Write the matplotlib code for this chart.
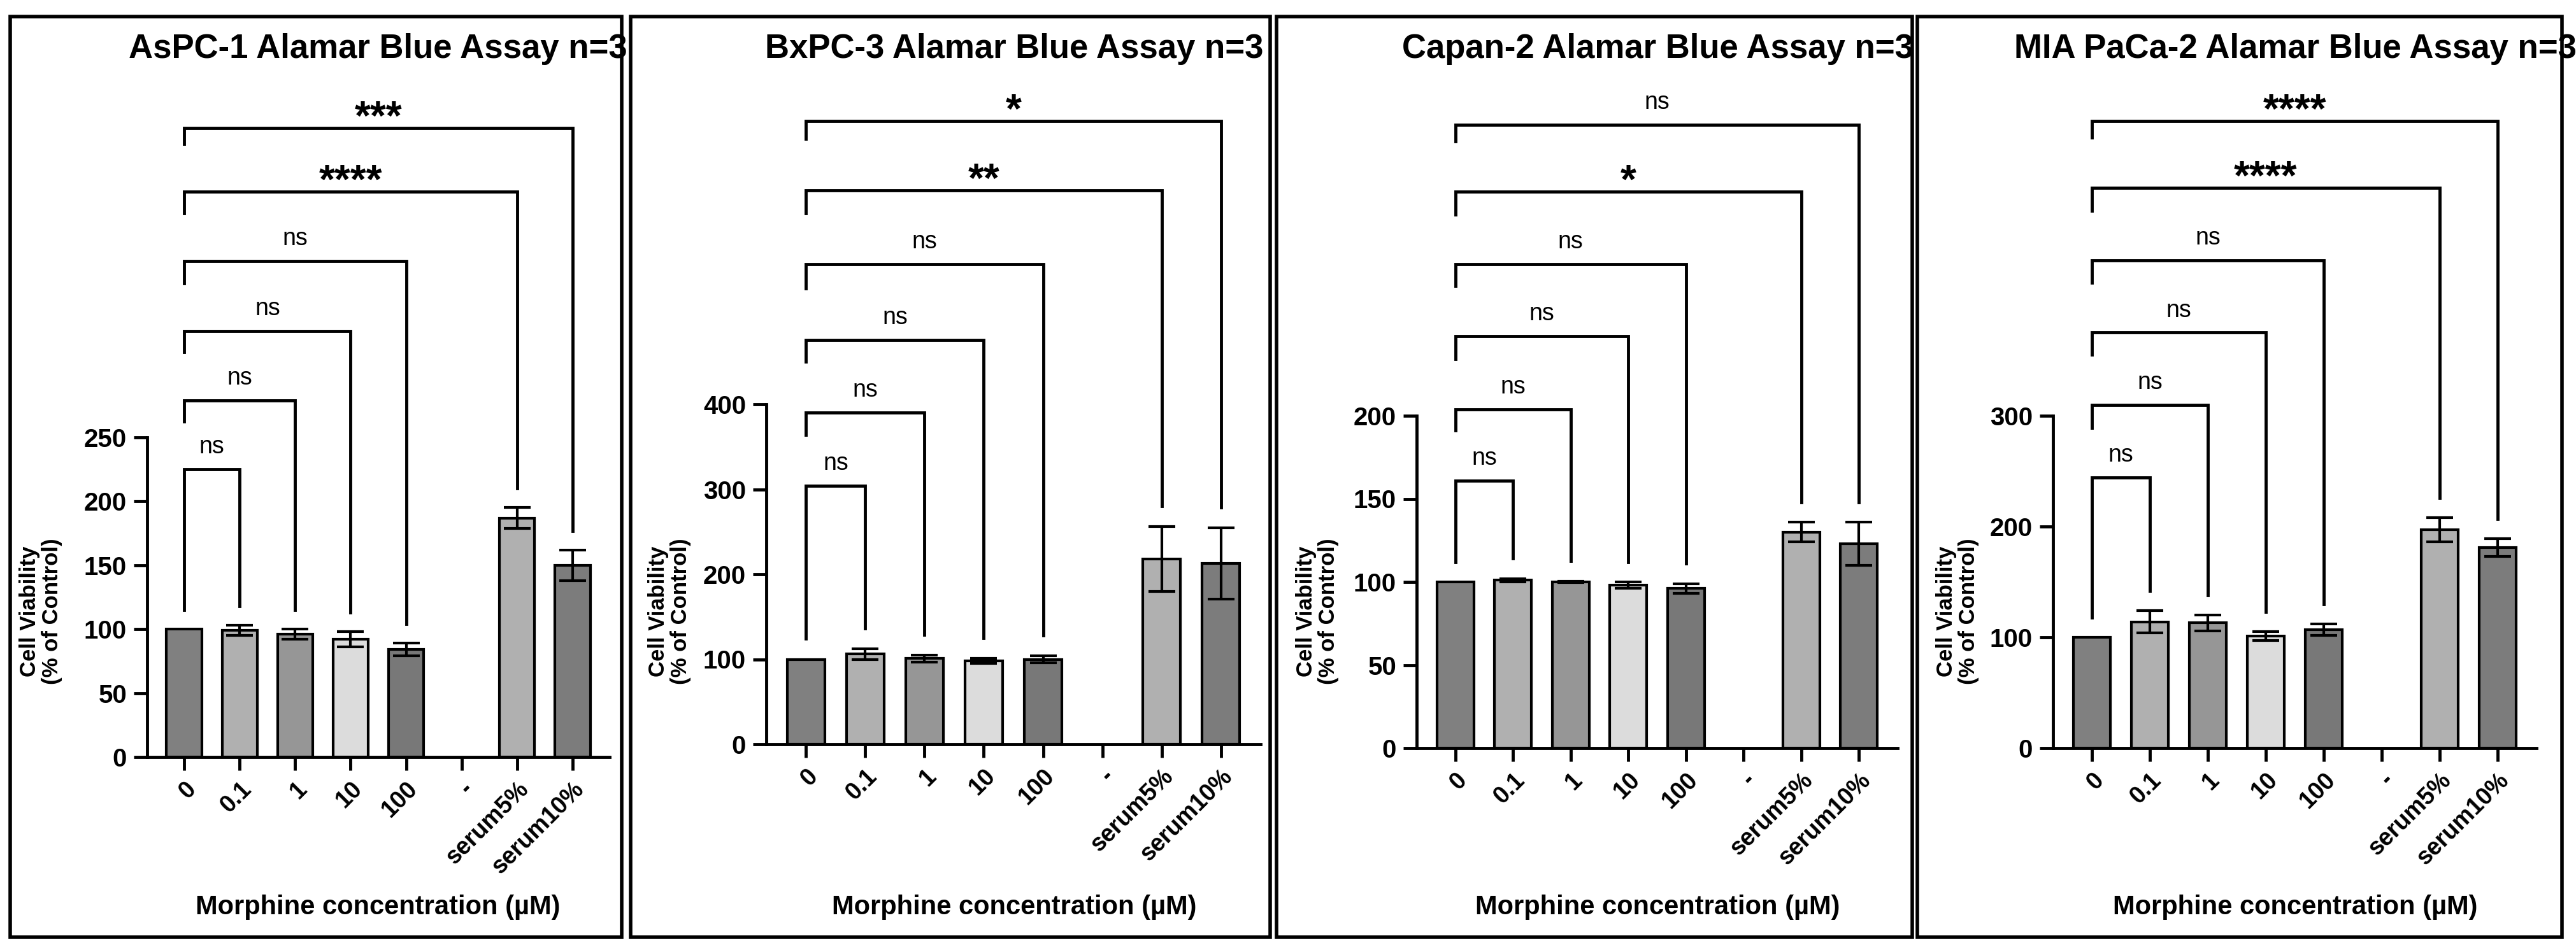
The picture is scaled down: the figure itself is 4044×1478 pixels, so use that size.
import matplotlib
matplotlib.use("Agg")
import matplotlib.pyplot as plt
from matplotlib.patches import Rectangle

plt.rcParams['font.family'] = ['Liberation Sans', 'DejaVu Sans']

categories = ["0", "0.1", "1", "10", "100", "-", "serum5%", "serum10%"]
titles = ["AsPC-1 Alamar Blue Assay n=3", "BxPC-3 Alamar Blue Assay n=3",
          "Capan-2 Alamar Blue Assay n=3", "MIA PaCa-2 Alamar Blue Assay n=3"]

aspc1_mean = [100, 99, 96, 92, 84, None, 187, 150]
aspc1_err = [0, 4, 4, 6, 5, None, 8, 12]
bxpc3_mean = [100, 106, 101, 98, 100, None, 218, 213]
bxpc3_err = [0, 6, 4, 3, 4, None, 38, 42]
capan2_mean = [100, 101, 100, 98, 96, None, 130, 123]
capan2_err = [0, 1, 0.5, 2, 3, None, 6, 13]
miapaca2_mean = [100, 114, 113, 101, 107, None, 197, 181]
miapaca2_err = [0, 10, 7, 4, 5, None, 11, 8]

aspc1_ticks = [0, 50, 100, 150, 200, 250]
bxpc3_ticks = [0, 100, 200, 300, 400]
capan2_ticks = [0, 50, 100, 150, 200]
miapaca2_ticks = [0, 100, 200, 300]

bracket_targets = [1, 2, 3, 4, 6, 7]
aspc1_levels = [225, 279, 333, 388, 442, 492]
bxpc3_levels = [304, 390, 476, 565, 652, 733]
capan2_levels = [161, 204, 248, 291, 335, 375]
miapaca2_levels = [244, 310, 375, 440, 506, 566]
aspc1_sig = ["ns", "ns", "ns", "ns", "****", "***"]
bxpc3_sig = ["ns", "ns", "ns", "ns", "**", "*"]
capan2_sig = ["ns", "ns", "ns", "ns", "*", "ns"]
miapaca2_sig = ["ns", "ns", "ns", "ns", "****", "****"]

bar_colors = ["#808080", "#b0b0b0", "#969696", "#dcdcdc", "#787878", "white", "#b0b0b0", "#7c7c7c"]

W, H = 4044, 1478
AX_TOP = 100
fig = plt.figure(figsize=(W / 100, H / 100), dpi=100)

panels = [
    dict(mean=aspc1_mean, err=aspc1_err, ticks=aspc1_ticks, lev=aspc1_levels, sig=aspc1_sig,
         box=(16, 26, 976, 1472), ax=(231, 957, 1189, 687), title_x=593, xl_x=593, yl_x=64),
    dict(mean=bxpc3_mean, err=bxpc3_err, ticks=bxpc3_ticks, lev=bxpc3_levels, sig=bxpc3_sig,
         box=(990, 26, 1994, 1472), ax=(1203, 1979, 1169, 635), title_x=1592, xl_x=1592, yl_x=1051),
    dict(mean=capan2_mean, err=capan2_err, ticks=capan2_ticks, lev=capan2_levels, sig=capan2_sig,
         box=(2004, 26, 3002, 1472), ax=(2224, 2979, 1175, 653), title_x=2602, xl_x=2602, yl_x=2068),
    dict(mean=miapaca2_mean, err=miapaca2_err, ticks=miapaca2_ticks, lev=miapaca2_levels, sig=miapaca2_sig,
         box=(3010, 26, 4022, 1472), ax=(3223, 3982, 1175, 653), title_x=3603, xl_x=3603, yl_x=3073),
]

for p, title in zip(panels, titles):
    x0, y0, x1, y1 = p["box"]
    fig.patches.append(Rectangle((x0 / W, 1 - y1 / H), (x1 - x0) / W, (y1 - y0) / H,
                                 transform=fig.transFigure, fill=False, lw=4, ec="black"))
    ax_l, ax_r, ax_b, ax_tick = p["ax"]
    ymax = p["ticks"][-1]
    top_units = (ax_b - AX_TOP) / (ax_b - ax_tick) * ymax
    ax = fig.add_axes([ax_l / W, 1 - ax_b / H, (ax_r - ax_l) / W, (ax_b - AX_TOP) / H])
    ax.set_ylim(0, top_units)
    ax.set_xlim(-0.67, 7.67)
    for i, (m, e) in enumerate(zip(p["mean"], p["err"])):
        if m is None:
            continue
        ax.bar(i, m, width=0.64, color=bar_colors[i], edgecolor="black", linewidth=3, zorder=2)
        if e:
            ax.errorbar(i, m, yerr=e, color="black", capsize=15, capthick=3, elinewidth=3, zorder=3)
    ax.set_xticks(range(len(categories)))
    ax.set_xticklabels(categories, rotation=45, ha="right", rotation_mode="anchor",
                       fontsize=27, fontweight="bold")
    ax.set_yticks(p["ticks"])
    ax.set_yticklabels([str(t) for t in p["ticks"]], fontsize=29, fontweight="bold")
    for s in ["top", "right"]:
        ax.spines[s].set_visible(False)
    ax.spines["left"].set_bounds(0, ymax)
    ax.spines["left"].set_linewidth(3.5)
    ax.spines["bottom"].set_linewidth(3.5)
    ax.tick_params(width=3.5, length=15, pad=8)
    ax.patch.set_alpha(0)

    gap_r = 0.06 * ymax
    gap_l = 0.15 * ymax
    prev = p["mean"][0]
    for k, (t, lv, s) in enumerate(zip(bracket_targets, p["lev"], p["sig"])):
        left_bottom = (p["mean"][0] + gap_r) if k == 0 else (prev + gap_l)
        right_bottom = p["mean"][t] + p["err"][t] + gap_r
        ax.plot([0, 0, t, t], [left_bottom, lv, lv, right_bottom], color="black", lw=3.5,
                solid_joinstyle="miter", clip_on=False)
        if s == "ns":
            ax.annotate(s, (t / 2, lv), xytext=(0, 18), textcoords="offset points",
                        ha="center", va="baseline", fontsize=27)
        else:
            ax.annotate(s, (t / 2, lv), xytext=(0, -2), textcoords="offset points",
                        ha="center", va="baseline", fontsize=46, fontweight="bold")
        prev = lv

    fig.text(p["title_x"] / W, 1 - 77 / H, title, ha="center", va="center",
             fontsize=38, fontweight="bold")
    fig.text(p["xl_x"] / W, 1 - 1425 / H, "Morphine concentration (µM)", ha="center",
             va="center", fontsize=30, fontweight="bold")
    fig.text(p["yl_x"] / W, 1 - 960 / H, "Cell Viability\n(% of Control)", ha="center",
             va="center", rotation=90, fontsize=25, fontweight="bold", linespacing=1.1)

fig.savefig("out.png", dpi=100)
